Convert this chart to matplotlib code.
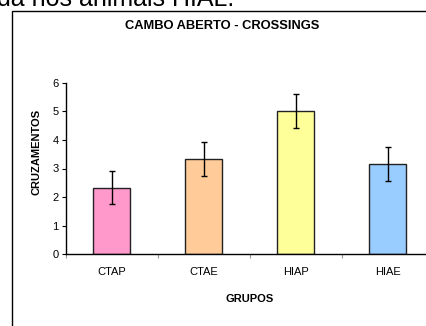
import numpy as np
import matplotlib
matplotlib.use("Agg")
import matplotlib.pyplot as plt
from matplotlib.patches import Rectangle

plt.rcParams['font.family'] = ['Liberation Sans', 'DejaVu Sans']

grupos = ['CTAP', 'CTAE', 'HIAP', 'HIAE']
cruzamentos = [2.33, 3.34, 5.01, 3.16]
erro = [0.58, 0.60, 0.59, 0.60]
cores = ['#FF99CC', '#FFCC99', '#FFFF99', '#99CCFF']

W, H = 426, 326
fig = plt.figure(figsize=(W / 100, H / 100), dpi=100)

# pedaco do texto do documento, cortado no topo
fig.text(-3 / W, 1 - 6 / H, 'da nos animais HIAL.', fontsize=18,
         ha='left', va='baseline', color='black')

# moldura do grafico (continua fora da imagem)
fig.patches.append(Rectangle((11.5 / W, -0.2), 1.2, 1.2 - 11 / H,
                             transform=fig.transFigure, fill=False,
                             edgecolor='black', linewidth=1.0))

ax = fig.add_axes([65.7 / W, 1 - 254.3 / H, 368 / W, 171.6 / H])
x = np.arange(len(grupos))
ax.bar(x, cruzamentos, width=0.4, color=cores, edgecolor='#222222',
       linewidth=1.0, zorder=2)
ax.errorbar(x, cruzamentos, yerr=erro, fmt='none', ecolor='black',
            elinewidth=1.0, capsize=2.2, capthick=1.0, zorder=3)

ax.set_xlim(-0.5, len(grupos) - 0.5)
ax.set_ylim(0, 6)
ax.set_yticks(range(7))
ax.set_xticks(x)
ax.set_xticklabels(grupos)
ax.set_xticks(np.arange(len(grupos) + 1) - 0.5, minor=True)
ax.tick_params(axis='x', which='major', length=0, pad=9, labelsize=8)
ax.tick_params(axis='x', which='minor', length=3, color='#999999', width=0.8)
ax.tick_params(axis='y', length=3, width=0.8, pad=2, labelsize=8)
for s in ['top', 'right']:
    ax.spines[s].set_visible(False)
ax.spines['left'].set_linewidth(1.0)
ax.spines['bottom'].set_linewidth(1.0)

fig.text(221.7 / W, 1 - 26 / H, 'CAMBO ABERTO - CROSSINGS', fontsize=9.3,
         fontweight='bold', ha='center', va='center')
fig.text(250 / W, 1 - 299 / H, 'GRUPOS', fontsize=8, fontweight='bold',
         ha='center', va='center')
fig.text(37 / W, 1 - 152 / H, 'CRUZAMENTOS', fontsize=8, fontweight='bold',
         ha='center', va='center', rotation=90)

fig.savefig('out.png', dpi=100)
